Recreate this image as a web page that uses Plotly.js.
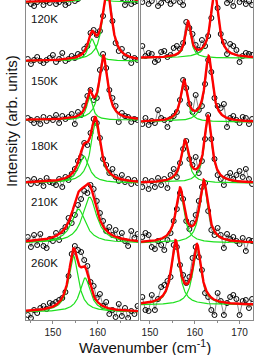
<!DOCTYPE html>
<html><head><meta charset="utf-8">
<script src="https://cdn.plot.ly/plotly-3.0.1.min.js"></script>
<style>html,body{margin:0;padding:0;background:#fff}#c{width:274px;height:355px}</style>
</head><body><div id="c"></div>
<script>
// wavenumber grids of the measured points (cm^-1)
const xLeft = [144.4,145.1,145.8,146.5,147.2,147.9,148.6,149.3,150.0,150.7,151.4,152.1,152.8,153.5,154.2,154.9,155.6,156.3,157.0,157.7,158.4,159.1,159.8,160.5,161.2,161.9,162.6,163.3,164.0,164.7,165.4,166.1,166.8,167.5,168.2,168.9];
const xRight = [148.3,149.0,149.7,150.4,151.1,151.8,152.5,153.2,153.9,154.6,155.3,156.0,156.7,157.4,158.1,158.8,159.5,160.2,160.9,161.6,162.3,163.0,163.7,164.4,165.1,165.8,166.5,167.2,167.9,168.6,169.3,170.0,170.7,171.4,172.1,172.8];

const temps = ['', '120K', '150K', '180K', '210K', '260K'];

// measured intensities (relative to each spectrum's baseline), left panel
const leftTop = [1,-2,-4,0,2,-3,1,-1,3,-2,0,2,-3,-1,4,1,3,6,10,18,28,25,20,32,50,80,70,38,16,8,4,-3,2,-2,0,1];
const left120 = [2,-3,1,4,0,-2,1,3,6,-1,2,8,0,2,5,3,7,6,12,15,28,31,26,30,45,75,68,40,18,10,12,4,6,-2,3,1];
const left150 = [2,0,-3,1,-4,3,-1,2,0,5,-3,4,1,3,6,-4,8,5,14,24,30,20,22,50,66,52,30,22,14,-2,7,4,3,-2,1,0];
const left180 = [3,-1,4,0,2,-3,5,1,0,-2,4,-4,6,3,9,14,22,26,40,38,50,64,60,45,24,18,10,14,6,2,8,1,4,-1,3,0];
const left210 = [6,-4,8,-2,9,-3,-5,4,2,10,3,12,16,25,20,28,38,44,52,50,58,54,42,30,22,12,16,8,13,4,10,2,-3,12,5,9];
const left260 = [-3,-6,2,-1,4,6,3,9,8,10,12,14,20,36,58,66,62,60,52,46,30,26,14,18,6,10,-2,2,-5,8,-4,4,-6,1,-2,6];

// right panel
const rightTop = [-4,1,-6,-3,2,-8,-5,0,-2,-6,-3,1,-4,-7,2,6,10,4,3,8,12,25,50,70,40,15,6,-5,-2,-8,3,-4,-1,-6,-3,-7];
const right120 = [12,2,5,4,-4,-2,6,7,1,3,10,12,9,15,36,30,24,13,8,18,12,22,40,72,50,24,16,4,14,12,8,-4,2,5,4,3];
const right150 = [-2,4,-3,1,-1,12,4,2,-5,3,6,10,22,42,34,18,10,27,12,16,38,62,50,24,16,14,18,-5,4,6,2,-1,5,4,-2,3];
const right180 = [-4,3,-6,2,-4,5,-2,4,-5,8,14,6,20,34,42,24,18,26,10,22,44,68,44,24,8,4,-2,6,10,4,8,12,6,14,4,-1];
const right210 = [6,10,8,-4,-6,2,-2,-7,3,10,22,34,50,44,22,14,20,28,42,56,60,32,13,8,15,8,-5,9,4,6,2,-1,5,-8,3,2];
const right260 = [8,-5,-6,10,-5,6,18,20,24,28,60,58,40,30,22,28,47,58,48,35,12,8,-5,-10,12,4,-10,2,8,10,6,-10,4,5,-3,6];

// vertical stacking offsets of each spectrum
const leftOffsets = [318, 259, 200, 137, 77, 8];
const rightOffsets = [322, 262, 198, 137, 77, 15];

// fitted Lorentzian components: centres, half widths, heights
const leftCenters = [[158.8,162.3],[158.7,162.1],[158.2,161.3],[156.9,159.5],[155.7,158.2],[154.6,157.2]];
const leftWidths  = [[0.9,1.1],[1.0,1.2],[0.8,1.1],[1.4,1.3],[1.9,1.9],[1.3,1.4]];
const leftHeights = [[22,75],[22,72],[23,63],[27,60],[34,46],[56,34]];
const rightCenters = [[158.6,164.6],[158.5,164.4],[157.6,163.1],[157.8,162.96],[156.7,162.0],[155.7,160.5]];
const rightWidths  = [[0.75,1.0],[0.75,1.0],[0.9,1.0],[1.0,1.0],[1.1,1.1],[1.1,1.1]];
const rightHeights = [[35,68],[35,68],[40,65],[41,66],[53,61],[62,58]];

const leftData = [leftTop, left120, left150, left180, left210, left260];
const rightData = [rightTop, right120, right150, right180, right210, right260];

const leftRange = [144, 169];
const rightRange = [148, 173];

function lor(x, c, w, h) { const d = (x - c) / w; return h / (1 + d * d); }

const traces = [];
function addPanel(xs, data, offs, cs, ws, hs, range, xa, ya) {
  const grid = [];
  for (let x = range[0]; x <= range[1] + 1e-9; x += 0.05) grid.push(x);
  for (let i = 0; i < data.length; i++) {
    traces.push({x: xs, y: data[i].map(v => v + offs[i]), xaxis: xa, yaxis: ya,
      mode: 'lines+markers', line: {color: '#555', width: 0.7},
      marker: {symbol: 'circle-open', size: 5, color: '#000', line: {width: 1, color: '#000'}},
      showlegend: false, hoverinfo: 'skip'});
  }
  for (let i = 0; i < data.length; i++) {
    for (let k = 0; k < 2; k++) {
      traces.push({x: grid, y: grid.map(x => offs[i] + lor(x, cs[i][k], ws[i][k], hs[i][k])),
        xaxis: xa, yaxis: ya, mode: 'lines', line: {color: '#1ee01e', width: 1.2},
        showlegend: false, hoverinfo: 'skip'});
    }
  }
  for (let i = 0; i < data.length; i++) {
    traces.push({x: grid, y: grid.map(x => offs[i] + lor(x, cs[i][0], ws[i][0], hs[i][0]) + lor(x, cs[i][1], ws[i][1], hs[i][1])),
      xaxis: xa, yaxis: ya, mode: 'lines', line: {color: '#ff0000', width: 2.4},
      showlegend: false, hoverinfo: 'skip'});
  }
}
addPanel(xLeft, leftData, leftOffsets, leftCenters, leftWidths, leftHeights, leftRange, 'x', 'y');
addPanel(xRight, rightData, rightOffsets, rightCenters, rightWidths, rightHeights, rightRange, 'x2', 'y2');

const font = 'Arial, "Liberation Sans", sans-serif';
const xCommon = {showline: true, linecolor: '#8a8a8a', linewidth: 1, ticks: 'outside', ticklen: 3, tickcolor: '#8a8a8a',
  showgrid: false, zeroline: false, tickfont: {size: 10, color: '#222', family: font},
  minor: {dtick: 5, ticks: 'outside', ticklen: 2, tickcolor: '#8a8a8a'}, fixedrange: true};
const yCommon = {range: [0, 320], showline: true, mirror: true, linecolor: '#8a8a8a', linewidth: 1,
  showticklabels: false, ticks: '', showgrid: false, zeroline: false, fixedrange: true};

const labelY = [0, 19, 81, 146, 202, 263];
const annotations = [];
for (let i = 1; i < temps.length; i++) {
  annotations.push({text: temps[i], xref: 'x domain', yref: 'paper', x: 0.025, y: (320 - labelY[i]) / 320,
    xanchor: 'left', yanchor: 'middle', showarrow: false, font: {size: 11.5, color: '#111', family: font}});
}
annotations.push({text: 'Intensity (arb. units)', xref: 'paper', yref: 'paper', x: -0.062, y: 0.622,
  textangle: -90, xanchor: 'center', yanchor: 'middle', showarrow: false, font: {size: 15, color: '#111', family: font}});
annotations.push({text: 'Wavenumber (cm<sup>-1</sup>)', xref: 'paper', yref: 'paper', x: 0.524, y: -0.084,
  xanchor: 'center', yanchor: 'middle', showarrow: false, font: {size: 15, color: '#111', family: font}});

const layout = {
  width: 274, height: 355, margin: {l: 26, r: 21, t: 0, b: 35},
  paper_bgcolor: '#fff', plot_bgcolor: '#fff', showlegend: false,
  xaxis: Object.assign({}, xCommon, {domain: [0, 112/227], range: leftRange, tickvals: [150, 160], anchor: 'y'}),
  xaxis2: Object.assign({}, xCommon, {domain: [115/227, 1], range: rightRange, tickvals: [150, 160, 170], anchor: 'y2'}),
  yaxis: Object.assign({}, yCommon, {anchor: 'x'}),
  yaxis2: Object.assign({}, yCommon, {anchor: 'x2'}),
  annotations: annotations,
  font: {family: font}
};
Plotly.newPlot('c', traces, layout, {displayModeBar: false, staticPlot: true});
</script></body></html>
